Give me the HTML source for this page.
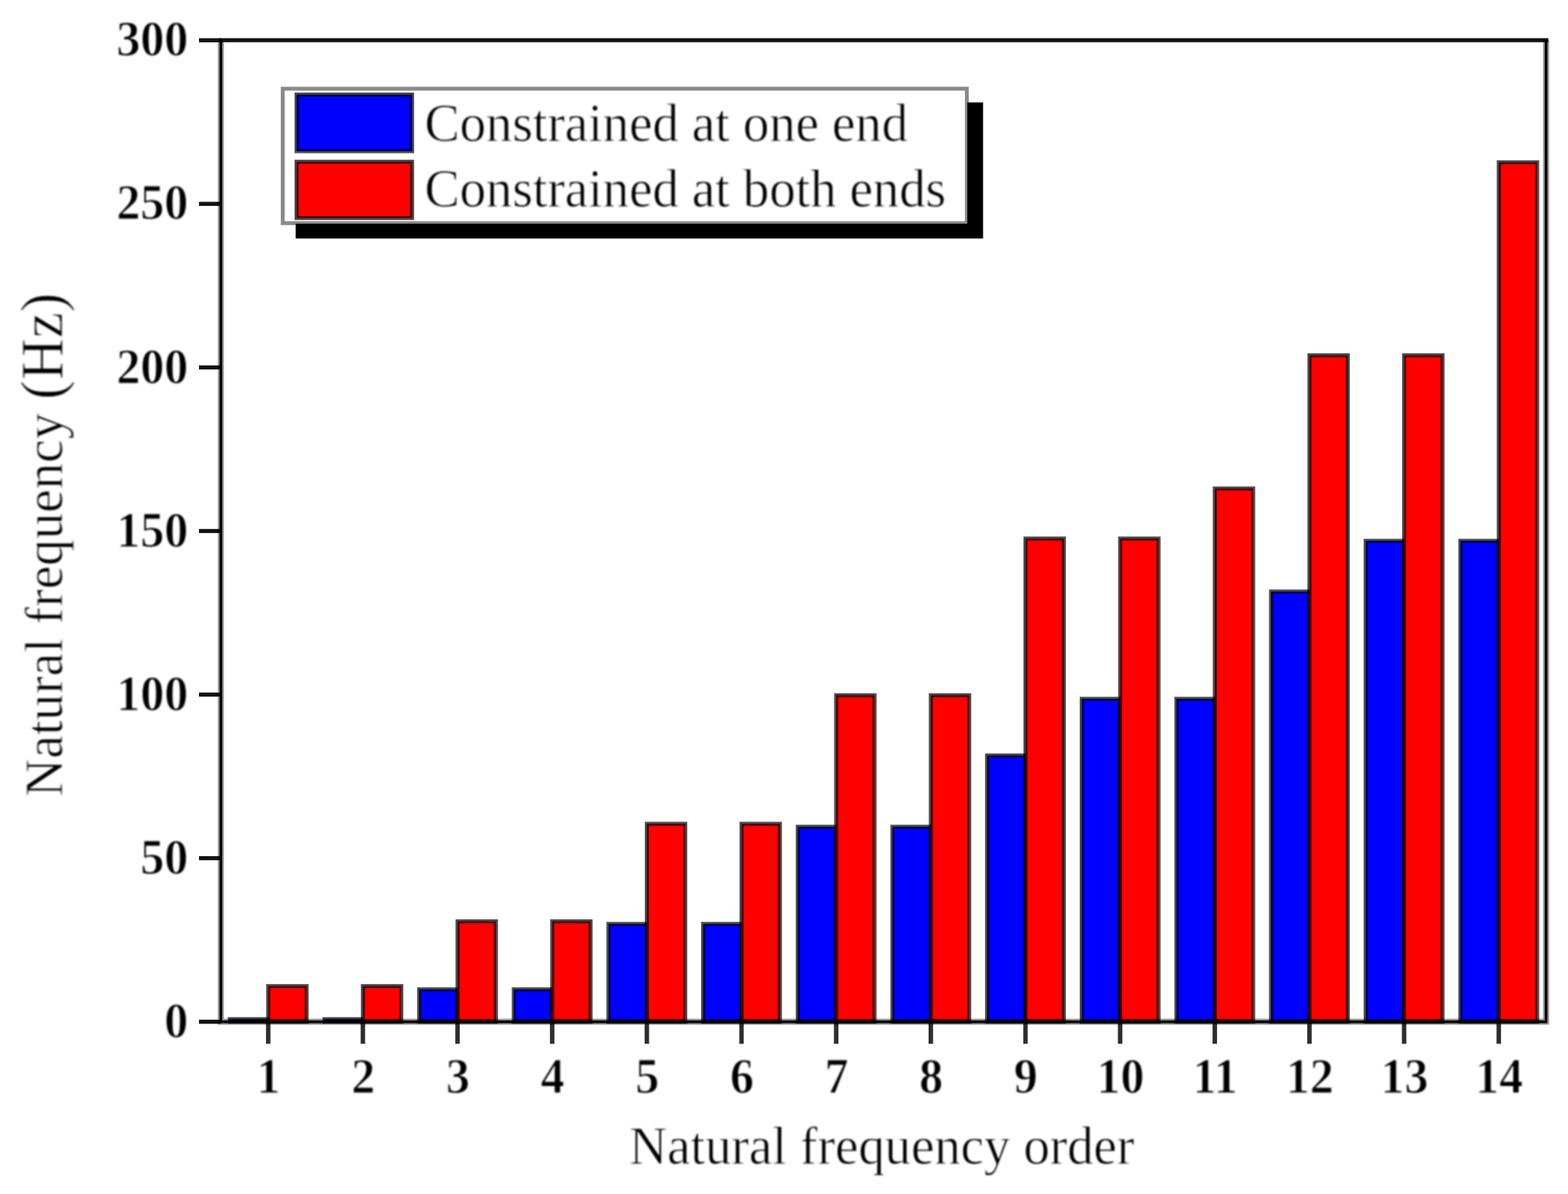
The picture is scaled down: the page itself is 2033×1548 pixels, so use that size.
<!DOCTYPE html>
<html lang="en"><head><meta charset="utf-8"><title>Natural frequency order</title>
<style>
html,body{margin:0;padding:0;background:#fff;}
body{width:2033px;height:1548px;position:relative;}
svg{display:block;}
.txt{filter:blur(0.8px);}
text{font-family:"Liberation Serif","DejaVu Serif",serif;fill:#000;stroke:#fff;stroke-linejoin:round;}
.tk{font-weight:bold;font-size:62px;stroke-width:1.1;}
.lb{font-size:68.2px;stroke-width:0.9;}
.hz{font-size:75px;}
.bar{stroke:#000;stroke-opacity:0.7;stroke-width:5.2;stroke-linejoin:miter;}
.ax{stroke:#000;stroke-width:3.4;fill:none;stroke-linecap:square;}
.axh{stroke:#000;stroke-opacity:0.42;stroke-width:7.8;fill:none;}
.axt{stroke:#000;stroke-opacity:0.93;stroke-width:5.3;fill:none;}
.tick{stroke:#000;stroke-opacity:0.82;stroke-width:5.8;fill:none;}
</style></head><body>
<svg width="2033" height="1548" viewBox="0 0 2033 1548">
<rect x="-5" y="-5" width="2043" height="1558" fill="#fff"/>
<g class="bars">
<rect class="bar" fill="#0000ff" x="297.97" y="1321.28" width="49.79" height="3.42"/>
<rect class="bar" fill="#ff0000" x="347.76" y="1278.44" width="49.79" height="46.26"/>
<rect class="bar" fill="#0000ff" x="420.7" y="1321.28" width="49.79" height="3.42"/>
<rect class="bar" fill="#ff0000" x="470.49" y="1278.44" width="49.79" height="46.26"/>
<rect class="bar" fill="#0000ff" x="543.43" y="1282.68" width="49.79" height="42.02"/>
<rect class="bar" fill="#ff0000" x="593.22" y="1194.46" width="49.79" height="130.24"/>
<rect class="bar" fill="#0000ff" x="666.16" y="1282.68" width="49.79" height="42.02"/>
<rect class="bar" fill="#ff0000" x="715.95" y="1194.46" width="49.79" height="130.24"/>
<rect class="bar" fill="#0000ff" x="788.89" y="1197.85" width="49.79" height="126.85"/>
<rect class="bar" fill="#ff0000" x="838.68" y="1068.06" width="49.79" height="256.64"/>
<rect class="bar" fill="#0000ff" x="911.62" y="1197.85" width="49.79" height="126.85"/>
<rect class="bar" fill="#ff0000" x="961.41" y="1068.06" width="49.79" height="256.64"/>
<rect class="bar" fill="#0000ff" x="1034.34" y="1071.87" width="49.79" height="252.83"/>
<rect class="bar" fill="#ff0000" x="1084.14" y="901.36" width="49.79" height="423.34"/>
<rect class="bar" fill="#0000ff" x="1157.07" y="1071.87" width="49.79" height="252.83"/>
<rect class="bar" fill="#ff0000" x="1206.86" y="901.36" width="49.79" height="423.34"/>
<rect class="bar" fill="#0000ff" x="1279.8" y="979.4" width="49.79" height="345.3"/>
<rect class="bar" fill="#ff0000" x="1329.59" y="698.18" width="49.79" height="626.52"/>
<rect class="bar" fill="#0000ff" x="1402.53" y="906.02" width="49.79" height="418.68"/>
<rect class="bar" fill="#ff0000" x="1452.32" y="698.18" width="49.79" height="626.52"/>
<rect class="bar" fill="#0000ff" x="1525.26" y="906.02" width="49.79" height="418.68"/>
<rect class="bar" fill="#ff0000" x="1575.05" y="633.28" width="49.79" height="691.42"/>
<rect class="bar" fill="#0000ff" x="1647.99" y="766.9" width="49.79" height="557.8"/>
<rect class="bar" fill="#ff0000" x="1697.78" y="460.65" width="49.79" height="864.05"/>
<rect class="bar" fill="#0000ff" x="1770.72" y="701.15" width="49.79" height="623.55"/>
<rect class="bar" fill="#ff0000" x="1820.51" y="460.65" width="49.79" height="864.05"/>
<rect class="bar" fill="#0000ff" x="1893.44" y="701.15" width="49.79" height="623.55"/>
<rect class="bar" fill="#ff0000" x="1943.24" y="210.39" width="49.79" height="1114.31"/>
</g>
<path class="axh" d="M286.4 52.2 V1324.7 H2004.6 V52.2"/>
<path class="ax" d="M286.4 52.2 V1324.7 H2004.6 V52.2"/>
<line class="axt" x1="284.4" y1="52.2" x2="2007.5" y2="52.2"/>
<g class="yticks">
<line class="axt" x1="258" y1="1324.7" x2="286.4" y2="1324.7"/>
<text class="tk txt" text-anchor="end" transform="translate(244 1344.9) scale(1 1.06)">0</text>
<line class="axt" x1="258" y1="1112.62" x2="286.4" y2="1112.62"/>
<text class="tk txt" text-anchor="end" transform="translate(244 1132.82) scale(1 1.06)">50</text>
<line class="axt" x1="258" y1="900.53" x2="286.4" y2="900.53"/>
<text class="tk txt" text-anchor="end" transform="translate(244 920.73) scale(1 1.06)">100</text>
<line class="axt" x1="258" y1="688.45" x2="286.4" y2="688.45"/>
<text class="tk txt" text-anchor="end" transform="translate(244 708.65) scale(1 1.06)">150</text>
<line class="axt" x1="258" y1="476.37" x2="286.4" y2="476.37"/>
<text class="tk txt" text-anchor="end" transform="translate(244 496.57) scale(1 1.06)">200</text>
<line class="axt" x1="258" y1="264.28" x2="286.4" y2="264.28"/>
<text class="tk txt" text-anchor="end" transform="translate(244 284.48) scale(1 1.06)">250</text>
<line class="axt" x1="258" y1="52.2" x2="286.4" y2="52.2"/>
<text class="tk txt" text-anchor="end" transform="translate(244 72.4) scale(1 1.06)">300</text>
</g>
<g class="xticks">
<line class="tick" x1="347.76" y1="1324.7" x2="347.76" y2="1353.3"/>
<text class="tk txt" text-anchor="middle" transform="translate(348.26 1416.8) scale(1 1.06)">1</text>
<line class="tick" x1="470.49" y1="1324.7" x2="470.49" y2="1353.3"/>
<text class="tk txt" text-anchor="middle" transform="translate(470.99 1416.8) scale(1 1.06)">2</text>
<line class="tick" x1="593.22" y1="1324.7" x2="593.22" y2="1353.3"/>
<text class="tk txt" text-anchor="middle" transform="translate(593.72 1416.8) scale(1 1.06)">3</text>
<line class="tick" x1="715.95" y1="1324.7" x2="715.95" y2="1353.3"/>
<text class="tk txt" text-anchor="middle" transform="translate(716.45 1416.8) scale(1 1.06)">4</text>
<line class="tick" x1="838.68" y1="1324.7" x2="838.68" y2="1353.3"/>
<text class="tk txt" text-anchor="middle" transform="translate(839.18 1416.8) scale(1 1.06)">5</text>
<line class="tick" x1="961.41" y1="1324.7" x2="961.41" y2="1353.3"/>
<text class="tk txt" text-anchor="middle" transform="translate(961.91 1416.8) scale(1 1.06)">6</text>
<line class="tick" x1="1084.14" y1="1324.7" x2="1084.14" y2="1353.3"/>
<text class="tk txt" text-anchor="middle" transform="translate(1084.64 1416.8) scale(1 1.06)">7</text>
<line class="tick" x1="1206.86" y1="1324.7" x2="1206.86" y2="1353.3"/>
<text class="tk txt" text-anchor="middle" transform="translate(1207.36 1416.8) scale(1 1.06)">8</text>
<line class="tick" x1="1329.59" y1="1324.7" x2="1329.59" y2="1353.3"/>
<text class="tk txt" text-anchor="middle" transform="translate(1330.09 1416.8) scale(1 1.06)">9</text>
<line class="tick" x1="1452.32" y1="1324.7" x2="1452.32" y2="1353.3"/>
<text class="tk txt" text-anchor="middle" transform="translate(1452.82 1416.8) scale(1 1.06)">10</text>
<line class="tick" x1="1575.05" y1="1324.7" x2="1575.05" y2="1353.3"/>
<text class="tk txt" text-anchor="middle" transform="translate(1575.55 1416.8) scale(1 1.06)">11</text>
<line class="tick" x1="1697.78" y1="1324.7" x2="1697.78" y2="1353.3"/>
<text class="tk txt" text-anchor="middle" transform="translate(1698.28 1416.8) scale(1 1.06)">12</text>
<line class="tick" x1="1820.51" y1="1324.7" x2="1820.51" y2="1353.3"/>
<text class="tk txt" text-anchor="middle" transform="translate(1821.01 1416.8) scale(1 1.06)">13</text>
<line class="tick" x1="1943.24" y1="1324.7" x2="1943.24" y2="1353.3"/>
<text class="tk txt" text-anchor="middle" transform="translate(1943.74 1416.8) scale(1 1.06)">14</text>
</g>
<text class="lb txt" text-anchor="middle" transform="translate(1143.3 1509) scale(1 1.03)">Natural frequency order</text>
<text class="lb txt" style="letter-spacing:0.22px" transform="translate(80.6 1033) rotate(-90) scale(1 1.03)">Natural frequency <tspan class="hz">(Hz)</tspan></text>
<g class="legend">
<rect x="366.6" y="115" width="887" height="174.3" fill="#fff" stroke="#8a8a8a" stroke-width="5"/>
<path fill="#000" d="M1254.2 132.8 H1274.6 V309.2 H383.4 V289.9 H1254.2 Z"/>
<rect class="bar" fill="#0000ff" x="384.5" y="122.6" width="149.8" height="73.4"/>
<rect class="bar" fill="#ff0000" x="384.5" y="209.7" width="149.8" height="73"/>
<text class="lb txt" transform="translate(550.5 183) scale(1 1.03)">Constrained at one end</text>
<text class="lb txt" transform="translate(550.5 268) scale(1 1.03)">Constrained at both ends</text>
</g>
</svg>
</body></html>
